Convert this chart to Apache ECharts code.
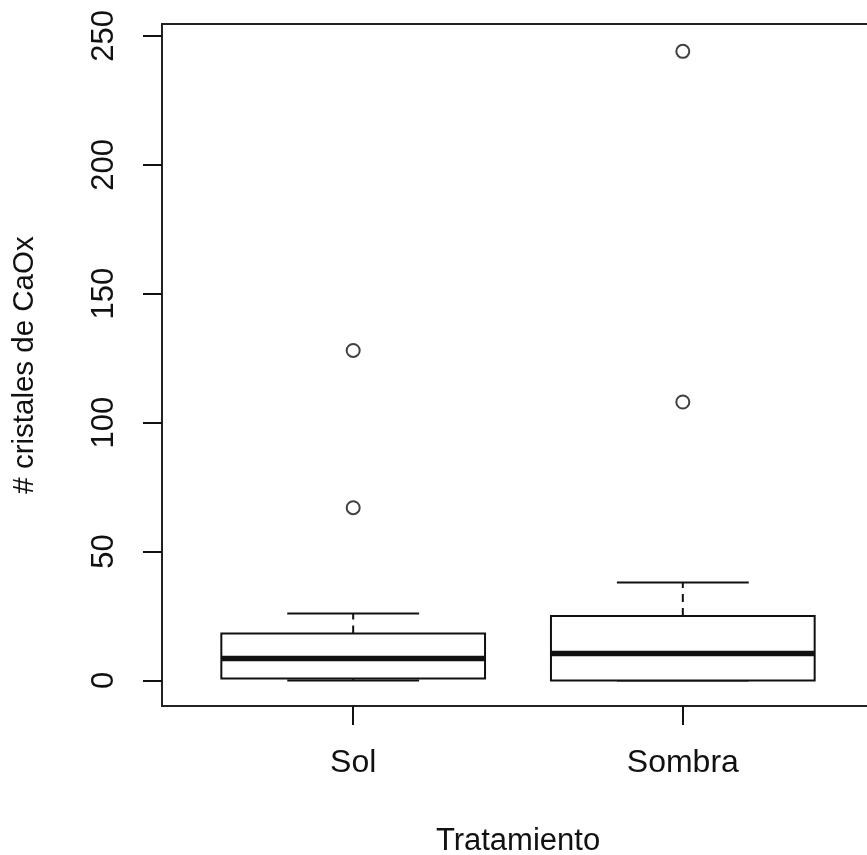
<!DOCTYPE html>
<html>
<head>
<meta charset="utf-8">
<title># cristales de CaOx por tratamiento</title>
<script src="https://cdn.jsdelivr.net/npm/echarts@6/dist/echarts.min.js"></script>
<style>
  html, body { margin: 0; padding: 0; background: #fff; }
  #chart { width: 867px; height: 855px; }
</style>
</head>
<body>
<div id="chart"></div>
<script>
// Treatments and their five-number summaries (Tukey boxplot statistics)
const categories = ['Sol', 'Sombra'];
const lowWhisker = [0, 0];
const lowerQuartile = [0.75, 0];
const medians = [8.5, 10.5];
const upperQuartile = [18.25, 25];
const highWhisker = [26, 38];
// Points beyond the whiskers
const outliersSol = [67, 128];
const outliersSombra = [108, 244];
// Value-axis tick marks
const yTicks = [0, 50, 100, 150, 200, 250];

const FONT = '"Liberation Sans", Arial, sans-serif';
const INK = '#111';

const boxData = categories.map((c, i) => [
  i + 1, lowWhisker[i], lowerQuartile[i], medians[i], upperQuartile[i], highWhisker[i]
]);
const outlierData = []
  .concat(outliersSol.map(v => [1, v]))
  .concat(outliersSombra.map(v => [2, v]));

function renderBox(params, api) {
  const x = api.value(0);
  const lo = api.value(1), q1 = api.value(2), md = api.value(3), q3 = api.value(4), hi = api.value(5);
  const halfBox = 0.4, halfCap = 0.2;
  const tl = api.coord([x - halfBox, q3]);
  const br = api.coord([x + halfBox, q1]);
  const mL = api.coord([x - halfBox, md]);
  const mR = api.coord([x + halfBox, md]);
  const top = api.coord([x, q3]);
  const hiP = api.coord([x, hi]);
  const bot = api.coord([x, q1]);
  const loP = api.coord([x, lo]);
  const capHiL = api.coord([x - halfCap, hi]);
  const capHiR = api.coord([x + halfCap, hi]);
  const capLoL = api.coord([x - halfCap, lo]);
  const capLoR = api.coord([x + halfCap, lo]);
  const thin = { stroke: INK, lineWidth: 2, fill: null };
  const dashed = { stroke: INK, lineWidth: 2, lineDash: [8, 6] };
  return {
    type: 'group',
    children: [
      { type: 'line', shape: { x1: top[0], y1: top[1], x2: hiP[0], y2: hiP[1] }, style: dashed },
      { type: 'line', shape: { x1: bot[0], y1: bot[1], x2: loP[0], y2: loP[1] }, style: dashed },
      { type: 'line', shape: { x1: capHiL[0], y1: capHiL[1], x2: capHiR[0], y2: capHiR[1] }, style: thin },
      { type: 'line', shape: { x1: capLoL[0], y1: capLoL[1], x2: capLoR[0], y2: capLoR[1] }, style: thin },
      { type: 'rect', shape: { x: tl[0], y: tl[1], width: br[0] - tl[0], height: br[1] - tl[1] },
        style: { stroke: INK, lineWidth: 2, fill: '#fff' } },
      { type: 'line', shape: { x1: mL[0], y1: mL[1], x2: mR[0], y2: mR[1] },
        style: { stroke: INK, lineWidth: 5.5 } }
    ]
  };
}

const chart = echarts.init(document.getElementById('chart'), null, { renderer: 'canvas' });
chart.setOption({
  backgroundColor: '#fff',
  animation: false,
  grid: {
    left: 162, top: 24, width: 712, height: 682,
    outerBoundsMode: 'none',
    containLabel: false,
    show: true, borderColor: '#222', borderWidth: 2, backgroundColor: 'transparent'
  },
  xAxis: {
    type: 'value',
    min: 0.42, max: 2.58,
    name: 'Tratamiento',
    nameLocation: 'middle',
    nameGap: 120,
    nameTextStyle: { fontFamily: FONT, fontSize: 31, color: INK },
    splitLine: { show: false },
    axisLine: { show: false, onZero: false },
    axisTick: { show: true, length: 19, customValues: [1, 2], lineStyle: { color: INK, width: 2 } },
    axisLabel: {
      customValues: [1, 2],
      margin: 41,
      fontFamily: FONT, fontSize: 32, color: INK,
      formatter: v => categories[Math.round(v) - 1] || ''
    }
  },
  yAxis: {
    type: 'value',
    min: -9.9, max: 254.6,
    name: '# cristales de CaOx',
    nameLocation: 'middle',
    nameGap: 122,
    nameTextStyle: { fontFamily: FONT, fontSize: 29.5, color: INK },
    splitLine: { show: false },
    axisLine: { show: false, onZero: false },
    axisTick: { show: true, length: 19, customValues: yTicks, lineStyle: { color: INK, width: 2 } },
    axisLabel: {
      customValues: yTicks,
      rotate: 90,
      margin: 42,
      fontFamily: FONT, fontSize: 31, color: INK
    }
  },
  series: [
    {
      type: 'custom',
      renderItem: renderBox,
      encode: { x: 0, y: [1, 2, 3, 4, 5] },
      data: boxData,
      z: 2
    },
    {
      type: 'scatter',
      symbol: 'circle',
      symbolSize: 13,
      itemStyle: { color: '#fff', borderColor: INK, borderWidth: 2 },
      data: outlierData,
      z: 3
    }
  ]
});
</script>
</body>
</html>
